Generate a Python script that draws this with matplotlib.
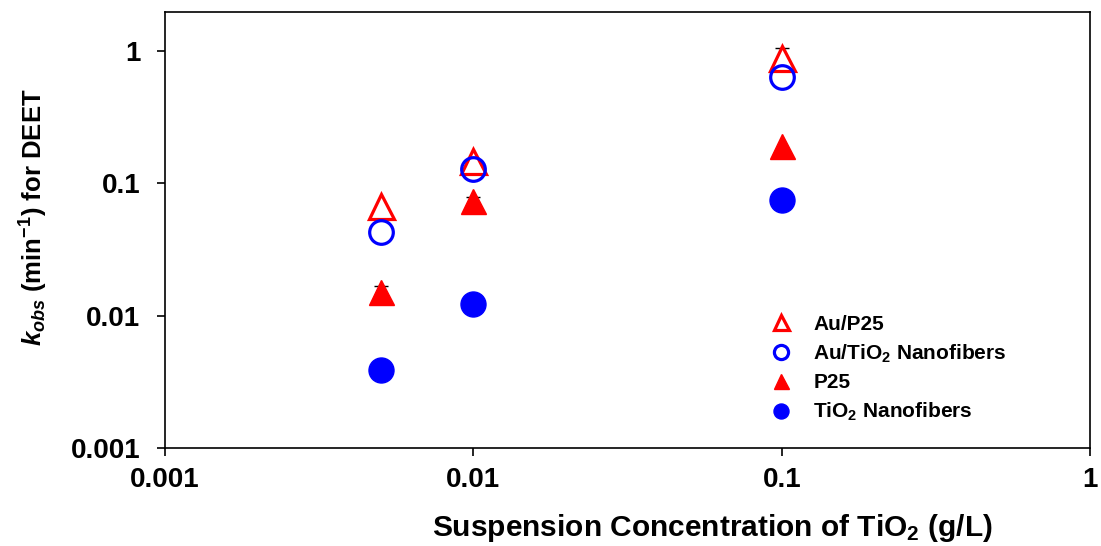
import matplotlib.pyplot as plt
from matplotlib.ticker import FixedLocator, FixedFormatter, NullLocator

plt.rcParams['font.family'] = ['Liberation Sans', 'DejaVu Sans']
plt.rcParams['font.weight'] = 'bold'
plt.rcParams['axes.labelweight'] = 'bold'
plt.rcParams['mathtext.fontset'] = 'custom'
plt.rcParams['mathtext.rm'] = 'Liberation Sans:bold'
plt.rcParams['mathtext.it'] = 'Liberation Sans:bold:italic'
plt.rcParams['mathtext.bf'] = 'Liberation Sans:bold'

# data
conc = [0.005, 0.01, 0.1]
au_p25 = [0.067, 0.148, 0.88]
au_p25_err = [0, 0, 0.17]
au_tio2_nf = [0.043, 0.128, 0.64]
p25 = [0.015, 0.073, 0.19]
p25_err = [0.0017, 0.006, 0]
tio2_nf = [0.0039, 0.0122, 0.075]

ticks = [0.001, 0.01, 0.1, 1]
tick_labels = ['0.001', '0.01', '0.1', '1']

fig = plt.figure(figsize=(11.01, 5.46), dpi=100)
ax = fig.add_axes([0.150, 0.1795, 0.840, 0.7985])

# small error bar caps (upper only show), mostly hidden behind the markers
for y, err in [(au_p25, au_p25_err), (p25, p25_err)]:
    xs = [c for c, e in zip(conc, err) if e > 0]
    ys = [v for v, e in zip(y, err) if e > 0]
    es = [e for e in err if e > 0]
    eb = ax.errorbar(xs, ys, yerr=es, fmt='none', ecolor='black',
                     elinewidth=1, capsize=5, zorder=1)
    eb[1][0].set_visible(False)
    for c in eb[2]:
        c.set_visible(False)

ax.plot(conc, au_p25, linestyle='none', marker='^', markersize=18,
        markerfacecolor='none', markeredgecolor='red', markeredgewidth=2.3,
        label='Au/P25', zorder=3)
ax.plot(conc, au_tio2_nf, linestyle='none', marker='o', markersize=17,
        markerfacecolor='none', markeredgecolor='blue', markeredgewidth=2.3,
        label='Au/TiO$_2$ Nanofibers', zorder=3)
ax.plot(conc, p25, linestyle='none', marker='^', markersize=18,
        color='red', label='P25', zorder=2)
ax.plot(conc, tio2_nf, linestyle='none', marker='o', markersize=18,
        color='blue', label='TiO$_2$ Nanofibers', zorder=2)

ax.set_xscale('log')
ax.set_yscale('log')
ax.set_xlim(0.001, 1)
ax.set_ylim(0.001, 1.97)

ax.xaxis.set_major_locator(FixedLocator(ticks))
ax.xaxis.set_major_formatter(FixedFormatter(tick_labels))
ax.xaxis.set_minor_locator(NullLocator())
ax.yaxis.set_major_locator(FixedLocator(ticks))
ax.yaxis.set_major_formatter(FixedFormatter(tick_labels))
ax.yaxis.set_minor_locator(NullLocator())
ax.tick_params(direction='out', length=6, width=1.2, labelsize=20)
ax.tick_params(axis='y', pad=12)
ax.tick_params(axis='x', pad=8)
for s in ax.spines.values():
    s.set_linewidth(1.2)

ax.set_xlabel('Suspension Concentration of TiO$_2$ (g/L)', fontsize=21.5)
ax.xaxis.set_label_coords(0.592, -0.147)
ax.set_ylabel('$k_{obs}$ (min$^{-1}$) for DEET', fontsize=18.5)
ax.yaxis.set_label_coords(-0.124, 0.53)

ax.legend(loc='upper left', bbox_to_anchor=(0.64, 0.325), frameon=False,
          fontsize=15, markerscale=0.6, handletextpad=0.8, labelspacing=0.42,
          handlelength=1.5, borderaxespad=0)

fig.savefig('out.png', dpi=100)
